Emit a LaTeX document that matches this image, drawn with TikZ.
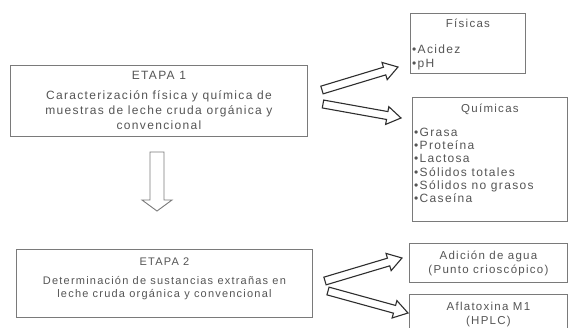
\documentclass[tikz,border=0pt]{standalone}
\usepackage{fontspec}
\setmainfont{Liberation Sans}
\newfontfamily\spaced[LetterSpace=11]{Liberation Sans}
\usetikzlibrary{calc}
\definecolor{txt}{HTML}{555555}
\definecolor{boxc}{HTML}{7A7A7A}
\definecolor{arr}{HTML}{2E2E2E}
\newcommand\blockarrow[5]{% #1 start, #2 end, #3 shaft half, #4 head half, #5 head length
  \path coordinate (hb) at ($(#2)!#5pt!(#1)$);
  \draw[arrowline] ($(#1)!#3pt!90:(#2)$) -- ($(hb)!#3pt!90:(#2)$) -- ($(hb)!#4pt!90:(#2)$) -- (#2)
    -- ($(hb)!#4pt!-90:(#2)$) -- ($(hb)!#3pt!-90:(#2)$) -- ($(#1)!#3pt!-90:(#2)$) -- cycle;}
\begin{document}
\begin{tikzpicture}[x=1pt,y=-1pt,
  box/.style={draw=boxc, line width=0.9pt, rectangle, inner sep=0pt},
  arrowline/.style={draw=arr, line width=1.1pt, line join=miter, fill=white},
  maintext/.style={text=txt, font=\spaced\fontsize{12}{15}\selectfont, align=center, inner sep=0pt},
  listtext/.style={text=txt, font=\spaced\fontsize{12}{13.2}\selectfont, align=left, inner sep=0pt}]
\useasboundingbox (0,0) rectangle (570,327);
\clip (0,0) rectangle (570,327);
\fill[white] (0,0) rectangle (570,327);
% boxes
\node[box, minimum width=297pt, minimum height=71pt, anchor=north west] (e1) at (10,65) {};
\node[box, minimum width=296pt, minimum height=68pt, anchor=north west] (e2) at (16,249) {};
\node[box, minimum width=115pt, minimum height=60pt, anchor=north west] (fis) at (410,13) {};
\node[box, minimum width=155pt, minimum height=124pt, anchor=north west] (qui) at (412,97) {};
\node[box, minimum width=158pt, minimum height=39pt, anchor=north west] (agua) at (409,243) {};
\node[box, minimum width=158pt, minimum height=50pt, anchor=north west] (afla) at (409,294) {};
% texts
\node[maintext, anchor=north] (e1t) at ($(e1.north)+(0,6)$) {ETAPA 1\\[5pt]Caracterización física y química de\\muestras de leche cruda orgánica y\\convencional};
\node[maintext, anchor=north, font=\spaced\fontsize{11}{13.5}\selectfont] (e2t) at ($(e2.north)+(0,9)$) {ETAPA 2\\[5pt]Determinación de sustancias extrañas en\\leche cruda orgánica y convencional};
\node[maintext, anchor=north, font=\spaced\fontsize{11.5}{15}\selectfont] (fist) at ($(fis.north)+(0,6)$) {Físicas};
\node[listtext, anchor=north west] (fisl) at ($(fis.north west)+(2,32)$) {•Acidez\\•pH};
\node[maintext, anchor=north, font=\spaced\fontsize{11.5}{15}\selectfont] (quit) at ($(qui.north)+(0,7)$) {Químicas};
\node[listtext, anchor=north west] (quil) at ($(qui.north west)+(2,31)$) {•Grasa\\•Proteína\\•Lactosa\\•Sólidos totales\\•Sólidos no grasos\\•Caseína};
\node[maintext, anchor=north, font=\spaced\fontsize{11.5}{14}\selectfont] (aguat) at ($(agua.north)+(0,8)$) {Adición de agua\\(Punto crioscópico)};
\node[maintext, anchor=north, font=\spaced\fontsize{11.5}{13.5}\selectfont] (aflat) at ($(afla.north)+(0,8)$) {Aflatoxina M1\\(HPLC)};
% arrow endpoints
\coordinate (a1s) at (322,90);  \coordinate (a1e) at (398,67);
\coordinate (a2s) at (323,104); \coordinate (a2e) at (401,118);
\coordinate (a3s) at (325,281); \coordinate (a3e) at (402,258);
\coordinate (a4s) at (328,291); \coordinate (a4e) at (408,313);
\coordinate (ds) at (157,152);  \coordinate (de) at (157,211);
\blockarrow{a1s}{a1e}{4}{9}{14}
\blockarrow{a2s}{a2e}{4}{9}{14}
\blockarrow{a3s}{a3e}{4}{9}{14}
\blockarrow{a4s}{a4e}{4}{9}{14}
\begin{scope}[arrowline/.append style={draw=boxc, line width=0.9pt}]
\blockarrow{ds}{de}{7}{15}{11}
\end{scope}
\end{tikzpicture}
\end{document}
